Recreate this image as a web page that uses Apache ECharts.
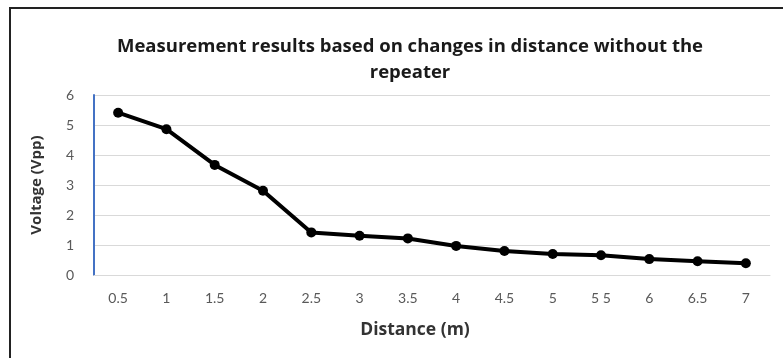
<!DOCTYPE html>
<html>
<head>
<meta charset="utf-8">
<script src="https://cdn.jsdelivr.net/npm/echarts@6/dist/echarts.min.js"></script>
<style>html,body{margin:0;padding:0;background:#fff;}#c{width:783px;height:358px;}</style>
</head>
<body>
<div id="c"></div>
<script>
var categories = ["0.5","1","1.5","2","2.5","3","3.5","4","4.5","5","5 5","6","6.5","7"];
var voltage = [5.41, 4.86, 3.67, 2.81, 1.42, 1.31, 1.22, 0.97, 0.80, 0.70, 0.66, 0.53, 0.46, 0.39];
var yTicks = [0, 1, 2, 3, 4, 5, 6];
var titleText = "Measurement results based on changes in distance without the\nrepeater";

var chart = echarts.init(document.getElementById('c'), null, {renderer: 'canvas'});
chart.setOption({
  animation: false,
  backgroundColor: '#ffffff',
  title: {
    text: titleText,
    left: 405, top: 29, textAlign: 'center',
    textStyle: {fontFamily: 'Open Sans', fontWeight: 'bold', fontSize: 18.5, color: '#1a1a1a', lineHeight: 26}
  },
  graphic: [{
    type: 'rect', shape: {x: 10, y: 8, width: 800, height: 400},
    style: {fill: 'none', stroke: '#222', lineWidth: 2}, silent: true
  }],
  grid: {left: 94, right: 13, top: 95, bottom: 83},
  xAxis: {
    type: 'category', data: categories, boundaryGap: true,
    name: 'Distance (m)', nameLocation: 'middle', nameGap: 46,
    nameTextStyle: {fontFamily: 'Open Sans', fontWeight: 'bold', fontSize: 17.5, color: '#333', padding: [0, 34, 0, 0]},
    axisLine: {show: true, lineStyle: {color: '#d9d9d9', width: 1}},
    axisTick: {show: false},
    axisLabel: {margin: 16, fontFamily: 'Lato', fontSize: 14, color: '#595959'}
  },
  yAxis: {
    type: 'value', min: yTicks[0], max: yTicks[yTicks.length-1], interval: 1,
    name: 'Voltage (Vpp)', nameLocation: 'middle', nameGap: 50, nameRotate: 90,
    nameTextStyle: {fontFamily: 'Open Sans', fontWeight: 'bold', fontSize: 15, color: '#333'},
    axisLine: {show: true, lineStyle: {color: '#4472C4', width: 2}},
    axisTick: {show: false},
    axisLabel: {margin: 20, fontFamily: 'Lato', fontSize: 14, color: '#595959'},
    splitLine: {show: true, lineStyle: {color: '#d9d9d9', width: 1}}
  },
  series: [{
    type: 'line', data: voltage,
    lineStyle: {color: '#000', width: 4},
    itemStyle: {color: '#000'},
    symbol: 'circle', symbolSize: 10
  }]
});
</script>
</body>
</html>
